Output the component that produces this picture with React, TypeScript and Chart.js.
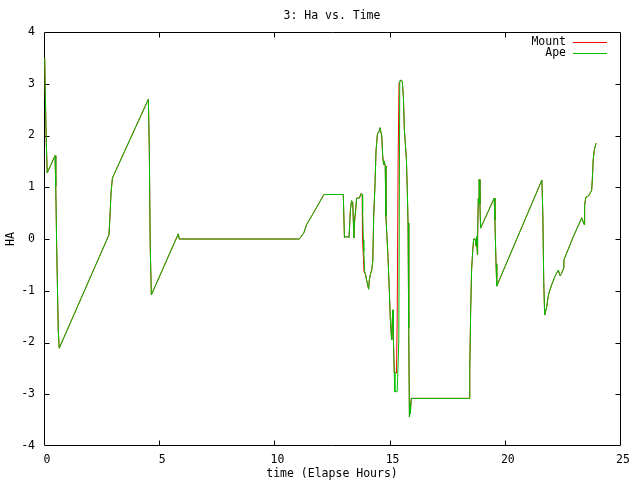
import React, { useEffect, useRef } from "react";
import { Chart, registerables } from "chart.js";

Chart.register(...registerables);

const TITLE = "3: Ha vs. Time";
const X_LABEL = "time (Elapse Hours)";
const Y_LABEL = "HA";
const SERIES_NAMES = ["Mount", "Ape"];
const SERIES_COLORS = ["#ff0000", "#00c000"];
const X_TICKS = [0, 5, 10, 15, 20, 25];
const Y_TICKS = [-4, -3, -2, -1, 0, 1, 2, 3, 4];

const apeX = [
  0.03, 0.05, 0.1, 0.14, 0.48, 0.51, 0.55, 0.59, 0.62, 0.66, 2.82, 2.86, 2.91, 2.97, 4.53, 4.57, 4.61, 4.66,
  5.83, 5.87, 11.08, 11.28, 11.4, 11.69, 12.15, 12.99, 13.04, 13.1, 13.24, 13.3, 13.35, 13.4, 13.45, 13.48,
  13.53, 13.57, 13.69, 13.76, 13.82, 13.83, 13.86, 13.88, 13.92, 13.96, 14.0, 14.05, 14.09, 14.12, 14.18,
  14.22, 14.27, 14.31, 14.37, 14.41, 14.47, 14.54, 14.58, 14.66, 14.7, 14.74, 14.77, 14.81, 14.84, 14.93,
  14.99, 15.03, 15.07, 15.09, 15.12, 15.15, 15.16, 15.2, 15.23, 15.33, 15.4, 15.44, 15.46, 15.5, 15.55,
  15.6, 15.64, 15.73, 15.77, 15.8, 15.83, 15.86, 15.89, 15.9, 15.94, 18.46, 18.48, 18.52, 18.56, 18.61,
  18.65, 18.72, 18.75, 18.78, 18.81, 18.82, 18.85, 18.88, 18.89, 18.92, 18.95, 19.54, 19.57, 19.62, 19.65,
  21.61, 21.65, 21.69, 21.73, 21.77, 21.82, 21.86, 21.91, 22.03, 22.18, 22.32, 22.4, 22.47, 22.56, 22.57,
  22.97, 23.34, 23.44, 23.45, 23.48, 23.52, 23.63, 23.77, 23.8, 23.84, 23.89, 23.96,
];
const apeY = [
  3.5, 2.96, 1.86, 1.28, 1.61, 1.02, -0.14, -1.08, -1.78, -2.11, 0.08, 0.41, 0.89, 1.18, 2.7, 1.76, -0.14, -1.08,
  0.1, 0.0, 0.0, 0.12, 0.28, 0.5, 0.86, 0.86, 0.02, 0.05, 0.03, 0.57, 0.74, 0.7, 0.02, 0.34,
  0.57, 0.79, 0.79, 0.88, 0.86, 0.53, -0.01, -0.24, -0.63, -0.69, -0.79, -0.89, -0.97, -0.79, -0.66,
  -0.61, -0.43, 0.44, 1.09, 1.7, 2.02, 2.09, 2.15, 1.99, 1.6, 1.44, 1.5, 1.41, 0.44, -0.34,
  -1.02, -1.53, -1.82, -1.95, -1.53, -1.37, -1.82, -2.57, -2.95, -2.95, -1.95, 3.02, 3.07, 3.07, 3.05,
  2.73, 2.12, 1.54, 0.92, 0.31, -1.72, -3.44, -3.18, -3.37, -3.08, -3.08, -2.51, -1.36, -0.59, -0.21,
  0.0, 0.0, -0.14, 0.05, -0.3, 0.06, 0.78, 0.7, 1.15, 0.68, 0.21, 0.79, 0.37, -0.48, -0.91,
  1.14, 0.49, -0.82, -1.47, -1.4, -1.31, -1.18, -1.05, -0.89, -0.72, -0.6, -0.71, -0.66, -0.56, -0.4,
  0.04, 0.41, 0.28, 0.44, 0.66, 0.81, 0.83, 0.94, 1.16, 1.55, 1.73, 1.85,
];

const mountX = [
  0.03, 0.05, 0.1, 0.14, 0.48, 0.51, 0.55, 0.59, 0.62, 0.66, 2.82, 2.86, 2.91, 2.97, 4.53, 4.57, 4.61, 4.66,
  5.83, 5.87, 11.08, 11.28, 11.4, 11.69, 12.15, 12.99, 13.04, 13.1, 13.24, 13.3, 13.35, 13.4, 13.45, 13.48,
  13.53, 13.57, 13.69, 13.76, 13.81, 13.81, 13.84, 13.85, 13.89, 13.96, 14.0, 14.05, 14.09, 14.12, 14.18,
  14.22, 14.27, 14.31, 14.37, 14.41, 14.47, 14.54, 14.58, 14.66, 14.7, 14.74, 14.77, 14.81, 14.84, 14.93,
  14.99, 15.03, 15.07, 15.09, 15.12, 15.15, 15.16, 15.2, 15.3, 15.33, 15.37, 15.41, 15.5, 15.55,
  15.6, 15.64, 15.73, 15.77, 15.8, 15.83, 15.86, 15.89, 15.9, 15.94, 18.46, 18.48, 18.52, 18.56, 18.61,
  18.65, 18.72, 18.75, 18.78, 18.81, 18.82, 18.85, 18.88, 18.89, 18.92, 18.95, 19.54, 19.57, 19.62, 19.65,
  21.61, 21.65, 21.69, 21.73, 21.77, 21.82, 21.86, 21.91, 22.03, 22.18, 22.32, 22.4, 22.47, 22.56, 22.57,
  22.97, 23.34, 23.44, 23.45, 23.48, 23.52, 23.63, 23.77, 23.8, 23.84, 23.89, 23.96,
];
const mountY = [
  3.5, 2.96, 1.86, 1.28, 1.61, 1.02, -0.14, -1.08, -1.78, -2.11, 0.08, 0.41, 0.89, 1.18, 2.7, 1.76, -0.14, -1.08,
  0.1, 0.0, 0.0, 0.12, 0.28, 0.5, 0.86, 0.86, 0.02, 0.05, 0.03, 0.57, 0.74, 0.7, 0.02, 0.34,
  0.57, 0.79, 0.79, 0.88, 0.86, 0.5, -0.01, -0.24, -0.63, -0.69, -0.79, -0.89, -0.97, -0.79, -0.66,
  -0.61, -0.43, 0.44, 1.09, 1.7, 2.02, 2.09, 2.15, 1.99, 1.6, 1.44, 1.5, 1.41, 0.44, -0.34,
  -1.02, -1.53, -1.82, -1.95, -1.53, -1.37, -1.82, -2.57, -2.59, -1.52, 1.5, 3.02, 3.07, 3.05,
  2.73, 2.12, 1.54, 0.92, 0.31, -1.72, -3.44, -3.18, -3.37, -3.08, -3.08, -2.51, -1.36, -0.59, -0.21,
  0.0, 0.0, -0.14, 0.05, -0.3, 0.06, 0.78, 0.7, 1.15, 0.68, 0.21, 0.79, 0.37, -0.48, -0.91,
  1.14, 0.49, -0.82, -1.47, -1.4, -1.31, -1.18, -1.05, -0.89, -0.72, -0.6, -0.71, -0.66, -0.56, -0.4,
  0.04, 0.41, 0.28, 0.44, 0.66, 0.81, 0.83, 0.94, 1.16, 1.55, 1.73, 1.85,
];

const FONT_FAMILY = "'DejaVu Sans Mono', 'Liberation Mono', monospace";
const FONT_SIZE = 11.5;

const toPoints = (xs: number[], ys: number[]) => xs.map((x, i) => ({ x, y: ys[i] }));

const gnuplotFrame = {
  id: "gnuplotFrame",
  beforeDatasetsDraw(chart: any) {
    const { ctx, chartArea: a, scales } = chart;
    const L = Math.round(a.left) + 0.5;
    const R = Math.round(a.right) + 0.5;
    const T = Math.round(a.top) + 0.5;
    const B = Math.round(a.bottom) - 0.5;
    ctx.save();
    ctx.strokeStyle = "#000";
    ctx.lineWidth = 1;
    ctx.beginPath();
    ctx.rect(L, T, R - L, B - T);
    X_TICKS.slice(1, -1).forEach((v) => {
      const p = Math.round(scales.x.getPixelForValue(v)) + 0.5;
      ctx.moveTo(p, B);
      ctx.lineTo(p, B - 5);
      ctx.moveTo(p, T);
      ctx.lineTo(p, T + 5);
    });
    Y_TICKS.slice(1, -1).forEach((v) => {
      const p = Math.round(scales.y.getPixelForValue(v)) + 0.5;
      ctx.moveTo(L, p);
      ctx.lineTo(L + 5, p);
      ctx.moveTo(R, p);
      ctx.lineTo(R - 5, p);
    });
    ctx.stroke();
    ctx.restore();
  },
  afterDraw(chart: any) {
    const { ctx } = chart;
    ctx.save();
    ctx.font = `${FONT_SIZE}px ${FONT_FAMILY}`;
    ctx.fillStyle = "#000";
    ctx.textBaseline = "middle";
    ctx.textAlign = "center";
    ctx.fillText(TITLE, 332, 16.5);
    ctx.textAlign = "right";
    const rows = [42.5, 53.5];
    chart.data.datasets.forEach((ds: any, i: number) => {
      const y = rows[i];
      ctx.fillText(ds.label, 566, y);
      ctx.strokeStyle = ds.borderColor;
      ctx.lineWidth = 1;
      ctx.beginPath();
      ctx.moveTo(573, y);
      ctx.lineTo(607, y);
      ctx.stroke();
    });
    ctx.restore();
  },
};

export default function App() {
  const ref = useRef<HTMLCanvasElement | null>(null);
  useEffect(() => {
    if (!ref.current) return;
    const font = { family: FONT_FAMILY, size: FONT_SIZE };
    const chart = new Chart(ref.current, {
      type: "line",
      data: {
        datasets: [
          {
            label: SERIES_NAMES[0],
            data: toPoints(mountX, mountY),
            borderColor: SERIES_COLORS[0],
            backgroundColor: SERIES_COLORS[0],
            borderWidth: 1,
            pointRadius: 0,
            tension: 0,
            fill: false,
            order: 2,
          },
          {
            label: SERIES_NAMES[1],
            data: toPoints(apeX, apeY),
            borderColor: SERIES_COLORS[1],
            backgroundColor: SERIES_COLORS[1],
            borderWidth: 1,
            pointRadius: 0,
            tension: 0,
            fill: false,
            order: 1,
          },
        ],
      },
      options: {
        responsive: false,
        devicePixelRatio: 1,
        animation: false,
        layout: { padding: { top: 32, right: 20, left: 0, bottom: 0 } },
        plugins: { legend: { display: false }, tooltip: { enabled: false }, title: { display: false } },
        scales: {
          x: {
            type: "linear",
            min: 0,
            max: 25,
            afterFit: (s: any) => {
              s.height = 34;
            },
            grid: { display: false, drawTicks: false },
            border: { display: false },
            ticks: { stepSize: 5, padding: 7, labelOffset: 3, color: "#000", font, maxRotation: 0, autoSkip: false },
            title: { display: true, text: X_LABEL, color: "#000", font, padding: { top: 0, bottom: -1 } },
          },
          y: {
            type: "linear",
            min: -4,
            max: 4,
            afterFit: (s: any) => {
              s.width = 44;
            },
            grid: { display: false, drawTicks: false },
            border: { display: false },
            ticks: { stepSize: 1, padding: 9, color: "#000", font, autoSkip: false },
            title: { display: true, text: Y_LABEL, color: "#000", font, padding: { top: 4, bottom: 0 } },
          },
        },
      },
      plugins: [gnuplotFrame],
    });
    return () => chart.destroy();
  }, []);
  return (
    <div style={{ position: "fixed", left: 0, top: 0, width: 640, height: 480, background: "#fff" }}>
      <canvas ref={ref} width={640} height={480} style={{ display: "block" }} />
    </div>
  );
}
